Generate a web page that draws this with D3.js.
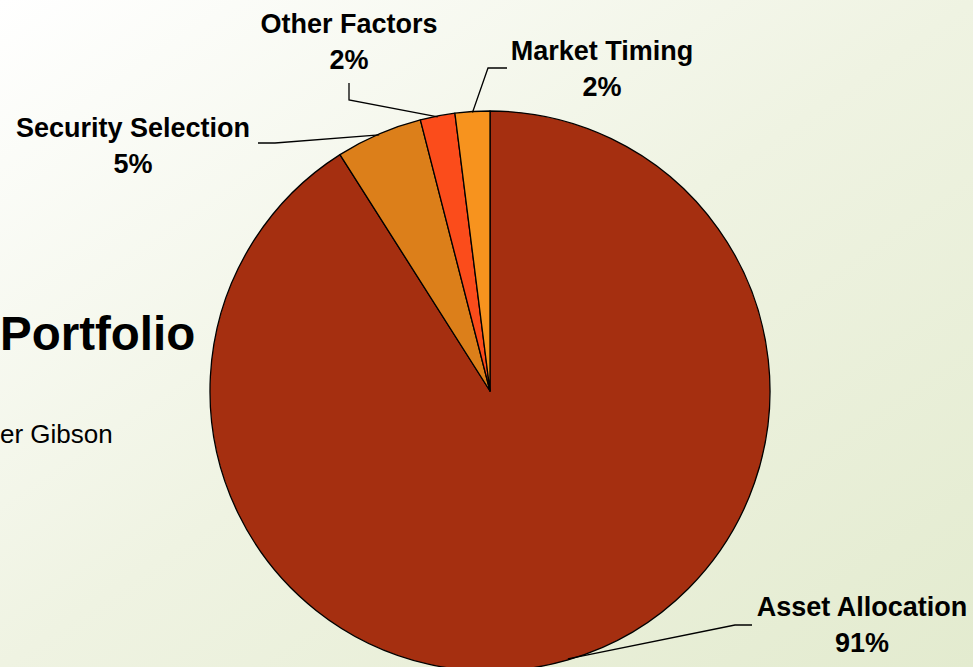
<!DOCTYPE html>
<html>
<head>
<meta charset="utf-8">
<script src="https://cdn.jsdelivr.net/npm/d3@7"></script>
<style>
  html, body { margin: 0; padding: 0; overflow: hidden; }
  svg { display: block; }
</style>
</head>
<body>
<svg id="chart" width="973" height="667"></svg>
<script>
// Contribution to variation in portfolio returns
const categories = ["Asset Allocation", "Security Selection", "Other Factors", "Market Timing"];
const shares = [91, 5, 2, 2];
const shareLabels = ["91%", "5%", "2%", "2%"];
const sliceColors = ["#a52f10", "#dc7f1a", "#fb4c1b", "#f7931e"];

const W = 973, H = 667;
const cx = 490, cy = 391, radius = 280;
const FONT = "'Liberation Sans', Arial, Helvetica, sans-serif";

// Label anchor (centre x, first baseline) and leader elbow points for each slice
const labelLayout = [
  { x: 862, y: 616, path: [[752, 625], [735, 625]] },
  { x: 133, y: 137, path: [[258, 143], [275, 143]] },
  { x: 349, y: 33,  path: [[349, 83],  [349, 100]] },
  { x: 602, y: 60,  path: [[507, 68],  [488, 68]] }
];

const svg = d3.select("#chart");

// Soft white-to-sage slide background, lightest at the top left
const defs = svg.append("defs");
const grad = defs.append("linearGradient")
  .attr("id", "bg")
  .attr("x1", 0).attr("y1", 0).attr("x2", 1).attr("y2", 1);
grad.append("stop").attr("offset", "0%").attr("stop-color", "#ffffff");
grad.append("stop").attr("offset", "50%").attr("stop-color", "#eff3e2");
grad.append("stop").attr("offset", "100%").attr("stop-color", "#e3ebcf");
svg.append("rect").attr("width", W).attr("height", H).attr("fill", "url(#bg)");

// Slide title and author text sitting behind the chart
svg.append("text")
  .attr("x", 0).attr("y", 350)
  .attr("font-family", FONT)
  .attr("font-weight", "bold")
  .attr("font-size", 47.5)
  .attr("fill", "#000")
  .text("Portfolio");
svg.append("text")
  .attr("x", 0).attr("y", 443)
  .attr("font-family", FONT)
  .attr("font-size", 26)
  .attr("fill", "#000")
  .text("er Gibson");

const pie = d3.pie().sort(null).value(d => d)(shares);
const arc = d3.arc().innerRadius(0).outerRadius(radius);
const rim = d3.arc().innerRadius(radius - 1).outerRadius(radius - 1);

const g = svg.append("g").attr("transform", `translate(${cx},${cy})`);
g.selectAll("path.slice")
  .data(pie)
  .join("path")
  .attr("class", "slice")
  .attr("d", arc)
  .attr("fill", (d, i) => sliceColors[i])
  .attr("stroke", "#000")
  .attr("stroke-width", 1.3)
  .attr("stroke-linejoin", "round");

// Leader lines from label to the middle of each slice's rim
const line = d3.line();
svg.selectAll("path.leader")
  .data(pie)
  .join("path")
  .attr("class", "leader")
  .attr("d", (d, i) => {
    const c = rim.centroid(d);
    const pts = labelLayout[i].path.concat([[cx + c[0], cy + c[1]]]);
    return line(pts);
  })
  .attr("fill", "none")
  .attr("stroke", "#000")
  .attr("stroke-width", 1.3);

// Category name and share labels
const labels = svg.selectAll("text.lbl")
  .data(pie)
  .join("text")
  .attr("class", "lbl")
  .attr("text-anchor", "middle")
  .attr("font-family", FONT)
  .attr("font-weight", "bold")
  .attr("font-size", 27)
  .attr("fill", "#000");
labels.append("tspan")
  .attr("x", (d, i) => labelLayout[i].x)
  .attr("y", (d, i) => labelLayout[i].y)
  .text((d, i) => categories[i]);
labels.append("tspan")
  .attr("x", (d, i) => labelLayout[i].x)
  .attr("y", (d, i) => labelLayout[i].y + 36)
  .text((d, i) => shareLabels[i]);
</script>
</body>
</html>
